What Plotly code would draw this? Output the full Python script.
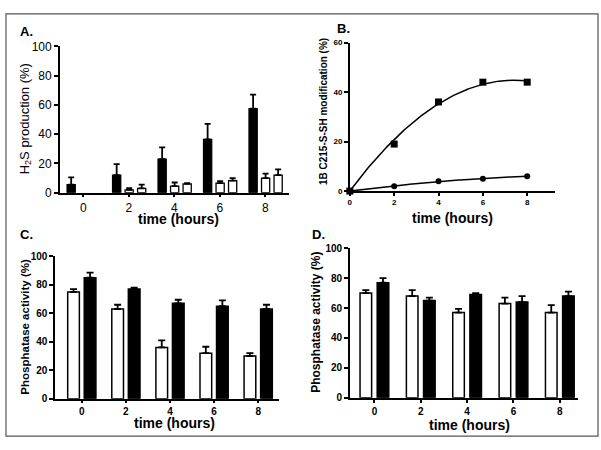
import numpy as np
import plotly.graph_objects as go

# ---------------- data ----------------
hours = [0, 2, 4, 6, 8]
tick_labels = ["0", "2", "4", "6", "8"]

# Panel A: H2S production (%)
a_black = [5.5, 12, 23, 36.5, 57.5]
a_black_err = [5, 7.5, 8, 10.5, 9.5]
a_white1 = [None, 2, 4.5, 6.5, 10]
a_white1_err = [0, 1.2, 2.5, 1.5, 3]
a_white2 = [None, 3, 6, 8.3, 12]
a_white2_err = [0, 2.5, 0.5, 1.7, 4]

# Panel B: 1B C215-S-SH modification (%)
b_square = [0, 19, 36, 44, 44]
b_circle = [0, 2, 4, 5, 6]

# Panel C: phosphatase activity (%)
c_white = [75, 63, 36, 32, 30]
c_white_err = [2, 3, 5, 4.5, 2]
c_black = [85, 77, 67, 65, 63]
c_black_err = [3.5, 1, 2.5, 4, 3]

# Panel D: phosphatase activity (%)
d_white = [70, 68, 57, 63, 57]
d_white_err = [2, 4, 2.5, 4, 5]
d_black = [77, 65, 69, 64, 68]
d_black_err = [3, 2, 1, 4, 3]

W, H = 601, 450
FONT = "Liberation Sans, Arial, sans-serif"


def px(x):
    return x / W


def py(y):
    return 1 - y / H


def fit_origin_quadratic(x, y):
    x = np.asarray(x, float)
    y = np.asarray(y, float)
    A = np.column_stack([x, x ** 2])
    coef, *_ = np.linalg.lstsq(A, y, rcond=None)
    xs = np.linspace(x.min(), x.max(), 120)
    return xs, coef[0] * xs + coef[1] * xs ** 2


def err(arr, cap):
    return dict(type="data", array=arr, arrayminus=[0] * len(arr), symmetric=False,
                color="black", thickness=1.8, width=cap)


fig = go.Figure()

# ---- Panel A bars ----
wA = 0.36
for vals, errs, col, off in [
    (a_black, a_black_err, "black", -0.72),
    (a_white1, a_white1_err, "white", -0.17),
    (a_white2, a_white2_err, "white", 0.38),
]:
    fig.add_trace(go.Bar(x=hours, y=vals, width=wA, offset=off, xaxis="x", yaxis="y",
                         marker=dict(color=col, line=dict(color="black", width=1.3)),
                         error_y=err(errs, 3), showlegend=False))

# ---- Panel B ----
for vals, sym, size in [(b_square, "square", 7), (b_circle, "circle", 6)]:
    xs, ys = fit_origin_quadratic(hours, vals)
    fig.add_trace(go.Scatter(x=xs, y=ys, mode="lines", line=dict(color="black", width=1.5),
                             xaxis="x2", yaxis="y2", showlegend=False, cliponaxis=False))
    fig.add_trace(go.Scatter(x=hours, y=vals, mode="markers",
                             marker=dict(symbol=sym, size=size, color="black"),
                             xaxis="x2", yaxis="y2", showlegend=False, cliponaxis=False))

# ---- Panel C ----
wC = 0.53
for vals, errs, col, off in [(c_white, c_white_err, "white", -0.64),
                             (c_black, c_black_err, "black", 0.11)]:
    fig.add_trace(go.Bar(x=hours, y=vals, width=wC, offset=off, xaxis="x3", yaxis="y3",
                         marker=dict(color=col, line=dict(color="black", width=1.5)),
                         error_y=err(errs, 3.5), showlegend=False))

# ---- Panel D ----
wD = 0.5
for vals, errs, col, off in [(d_white, d_white_err, "white", -0.62),
                             (d_black, d_black_err, "black", 0.12)]:
    fig.add_trace(go.Bar(x=hours, y=vals, width=wD, offset=off, xaxis="x4", yaxis="y4",
                         marker=dict(color=col, line=dict(color="black", width=1.5)),
                         error_y=err(errs, 3.5), showlegend=False))


def xax(dom, rng, anchor, fsize, bold, tickvals=hours, ticktext=tick_labels):
    return dict(domain=dom, range=rng, anchor=anchor, showgrid=False, zeroline=False,
                showline=True, linecolor="black", linewidth=1.5, ticks="outside",
                ticklen=3, tickwidth=1.5, tickcolor="black", tickvals=tickvals,
                ticktext=[f"<b>{t}</b>" if bold else t for t in ticktext],
                tickfont=dict(family=FONT, size=fsize, color="black"), fixedrange=True)


def yax(dom, rng, anchor, fsize, bold, dtick):
    vals = list(range(0, int(rng[1]) + 1, dtick))
    return dict(domain=dom, range=rng, anchor=anchor, showgrid=False, zeroline=False,
                showline=True, linecolor="black", linewidth=1.5, ticks="outside",
                ticklen=4, tickwidth=1.5, tickcolor="black", tickvals=vals,
                ticktext=[f"<b>{v}</b>" if bold else str(v) for v in vals],
                tickfont=dict(family=FONT, size=fsize, color="black"), fixedrange=True)


layout = dict(
    width=W, height=H, margin=dict(l=0, r=0, t=0, b=0),
    paper_bgcolor="white", plot_bgcolor="white", showlegend=False, barmode="overlay",
    xaxis=xax([px(58), px(288)], [-1.04, 9.04], "y", 12, False),
    yaxis=yax([py(191.7), py(40.7)], [0, 100], "x", 12, False, 20),
    xaxis2=xax([px(349), px(555)], [0, 9.26], "y2", 8, True),
    yaxis2=yax([py(190), py(36.7)], [0, 60], "x2", 8, True, 20),
    xaxis3=xax([px(53.3), px(278.3)], [-1.21, 8.96], "y3", 10, True),
    yaxis3=yax([py(404.3), py(257.3)], [0, 100], "x3", 10, True, 20),
    xaxis4=xax([px(349), px(578.3)], [-1.06, 8.8], "y4", 10, True),
    yaxis4=yax([py(403.3), py(249)], [0, 100], "x4", 10, True, 20),
)
fig.update_layout(**layout)


def ann(text, x, y, size, angle=0, xanchor="center", bold=True):
    fig.add_annotation(text=f"<b>{text}</b>" if bold else text, x=px(x), y=py(y),
                       xref="paper", yref="paper", showarrow=False, textangle=angle,
                       xanchor=xanchor, yanchor="middle",
                       font=dict(family=FONT, size=size, color="black"))


# panel letters
ann("A.", 16, 25, 13, xanchor="left")
ann("B.", 334, 22, 13, xanchor="left")
ann("C.", 16, 235, 13, xanchor="left")
ann("D.", 309, 235, 13, xanchor="left")

# y titles
ann("H<sub>2</sub>S production (%)", 23, 115, 13, angle=-90, bold=False)
ann("1B C215-S-SH modification (%)", 322.5, 108, 10, angle=-90)
ann("Phosphatase activity (%)", 23, 330, 11.5, angle=-90)
ann("Phosphatase activity (%)", 315, 325, 12, angle=-90)

# x titles
ann("time (hours)", 177, 219, 14)
ann("time (hours)", 452, 218, 14)
ann("time (hours)", 173, 429, 14)
ann("time (hours)", 469, 431, 14)

# outer frame
fig.add_shape(type="rect", xref="paper", yref="paper", x0=px(4), x1=px(598),
              y0=py(443), y1=py(7), line=dict(color="#555555", width=1.2))

fig.write_html("out.html", config={"displayModeBar": False},
               post_script="document.body.style.margin='0';document.body.style.overflow='hidden';")
